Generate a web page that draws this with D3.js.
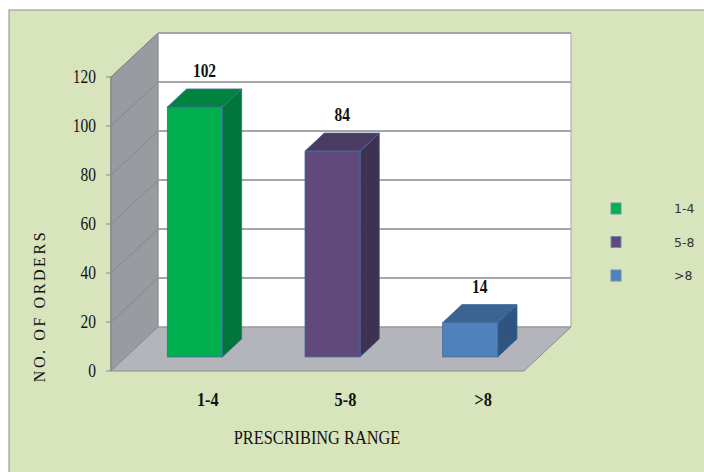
<!DOCTYPE html>
<html>
<head>
<meta charset="utf-8">
<script src="https://cdn.jsdelivr.net/npm/d3@7"></script>
<style>
  html,body{margin:0;padding:0;background:#fff;}
</style>
</head>
<body>
<svg id="chart" width="704" height="472"></svg>
<script>
// data
var categories = ["1-4", "5-8", ">8"];
var orders = [102, 84, 14];
var yTicks = [0, 20, 40, 60, 80, 100, 120];
var legendLabels = ["1-4", "5-8", ">8"];

// styles
var faceColors = ["#00b050", "#5f4a7b", "#4f81bd"];
var sideColors = ["#00763a", "#3f3151", "#2f5480"];
var topColors = ["#00843f", "#4b3b63", "#3b6494"];

var svg = d3.select("#chart");
svg.append("rect").attr("x", 9).attr("y", 10).attr("width", 704).attr("height", 472)
    .attr("fill", "#d8e4bc").attr("stroke", "#8e8e8e").attr("stroke-width", 1);

var x = d3.scaleBand().domain(categories).range([111, 524]).paddingInner(0.6).paddingOuter(0.3);
var y = d3.scaleLinear().domain([0, 120]).range([371, 77]);
var DX = 47, DY = -44;
var x0 = 111, x1 = 524;
function p(px, v, t){ return [px + DX * t, y(v) + DY * t]; }
function poly(pts){ return pts.map(function(d){ return d.join(","); }).join(" "); }

// back wall
svg.append("polygon").attr("points", poly([p(x0,0,1), p(x1,0,1), p(x1,120,1), p(x0,120,1)]))
    .attr("fill", "#ffffff").attr("stroke", "#a6a6a6").attr("stroke-width", 1);
// side wall
svg.append("polygon").attr("points", poly([p(x0,0,0), p(x0,0,1), p(x0,120,1), p(x0,120,0)]))
    .attr("fill", "#999ba0").attr("stroke", "#8a8c90").attr("stroke-width", 1);
// floor
svg.append("polygon").attr("points", poly([p(x0,0,0), p(x1,0,0), p(x1,0,1), p(x0,0,1)]))
    .attr("fill", "#b3b5ba").attr("stroke", "#8c8e92").attr("stroke-width", 1);

// grid lines on back wall and side wall
yTicks.forEach(function(v){
    if (v > 0) {
        var a = p(x0, v, 1), b = p(x1, v, 1);
        svg.append("line").attr("x1", a[0]).attr("y1", a[1]).attr("x2", b[0]).attr("y2", b[1])
            .attr("stroke", "#a6a6a6").attr("stroke-width", 2);
        var c = p(x0, v, 0);
        svg.append("line").attr("x1", c[0]).attr("y1", c[1]).attr("x2", a[0]).attr("y2", a[1])
            .attr("stroke", "#85878b").attr("stroke-width", 1);
    }
});

// axis line + ticks
svg.append("line").attr("x1", x0).attr("y1", y(0)).attr("x2", x0).attr("y2", y(120))
    .attr("stroke", "#8a8a8a").attr("stroke-width", 1.5);
yTicks.forEach(function(v){
    svg.append("line").attr("x1", x0 - 5).attr("y1", y(v)).attr("x2", x0).attr("y2", y(v))
        .attr("stroke", "#8a8a8a").attr("stroke-width", 1);
});

function serifText(tx, ty, str, size, weight, anchor, sx){
    return svg.append("text")
        .attr("transform", "translate(" + tx + "," + ty + ") scale(" + (sx || 0.86) + ",1)")
        .attr("text-anchor", anchor || "middle")
        .attr("font-family", "'Liberation Serif', 'Times New Roman', serif")
        .attr("font-size", size).attr("font-weight", weight || "normal")
        .attr("fill", "#111").text(str);
}

yTicks.forEach(function(v){
    serifText(96, y(v) + 6, v, 18, "normal", "end");
});

// bars
var t0 = 0.32, t1 = 0.73;
var ddx = DX * (t1 - t0), ddy = DY * (t1 - t0);
var bw = x.bandwidth();
var bars = svg.append("g");
categories.forEach(function(c, i){
    var v = orders[i];
    var fx = x(c) + DX * t0, fx2 = fx + bw;
    var yt = y(v) + DY * t0, yb = y(0) + DY * t0;
    var g = bars.append("g");
    g.append("polygon").attr("points", poly([[fx2, yt], [fx2 + ddx, yt + ddy], [fx2 + ddx, yb + ddy], [fx2, yb]]))
        .attr("fill", sideColors[i]).attr("stroke", "#3d6a9a").attr("stroke-width", 0.8);
    g.append("polygon").attr("points", poly([[fx, yt], [fx2, yt], [fx2 + ddx, yt + ddy], [fx + ddx, yt + ddy]]))
        .attr("fill", topColors[i]).attr("stroke", "#3d6a9a").attr("stroke-width", 0.8);
    g.append("rect").attr("x", fx).attr("y", yt).attr("width", bw).attr("height", yb - yt)
        .attr("fill", faceColors[i]).attr("stroke", "#3d6a9a").attr("stroke-width", 0.8);
    // value label
    serifText(fx + (bw + ddx) / 2, y(v) + DY, v, 18, "bold", "middle");
    // category label
    serifText(x(c) + bw / 2 + 28, 406, c, 19, "bold", "middle");
});

// axis titles
svg.append("text")
    .attr("transform", "translate(45,306) rotate(-90)")
    .attr("text-anchor", "middle")
    .attr("font-family", "'Liberation Serif', 'Times New Roman', serif")
    .attr("font-size", 16).attr("letter-spacing", 2.6)
    .attr("fill", "#111").text("NO. OF ORDERS");
serifText(317, 444, "PRESCRIBING RANGE", 19, "normal", "middle", 0.86);

// legend
var legend = svg.append("g");
legendLabels.forEach(function(l, i){
    var ly = 203 + i * 33.5;
    legend.append("rect").attr("x", 611).attr("y", ly).attr("width", 10).attr("height", 11)
        .attr("fill", faceColors[i]).attr("stroke", "#6f8fb0").attr("stroke-width", 1);
    legend.append("text").attr("x", 674).attr("y", ly + 10)
        .attr("font-family", "'DejaVu Sans', sans-serif").attr("font-size", 12.5)
        .attr("fill", "#333").text(l);
});
</script>
</body>
</html>
